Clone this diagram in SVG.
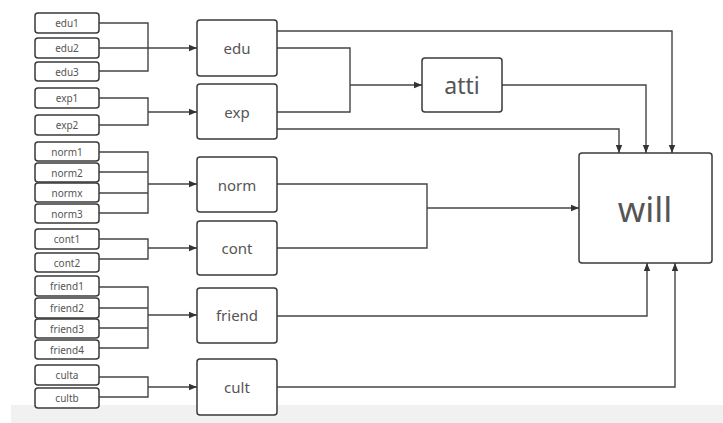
<svg xmlns="http://www.w3.org/2000/svg" width="723" height="423" viewBox="0 0 723 423">
<style>
.b{fill:#fff;stroke:#3a3a3a;stroke-width:1.5}
.t{font-family:"Noto Sans","Open Sans",sans-serif;fill:#555;text-anchor:middle;dominant-baseline:central}
.s{font-size:10px}
.m{font-size:15px}
.c{fill:none;stroke:#444;stroke-width:1.4}
.a{marker-end:url(#ah)}
</style>
<defs>
<marker id="ah" viewBox="0 0 10 10" refX="10" refY="5" markerWidth="8" markerHeight="8" markerUnits="userSpaceOnUse" orient="auto">
<path d="M0,1 L10,5 L0,9 Z" fill="#333"/>
</marker>
</defs>
<rect width="723" height="423" fill="#fff"/>
<rect x="11" y="405" width="712" height="18" fill="#f1f1f1"/>
<g id="connectors">
<path class="c" d="M99,23 H148 V71 H99 M99,48 H148"/>
<path class="c a" d="M148,48 H197"/>
<path class="c" d="M99,98 H148 V125 H99"/>
<path class="c a" d="M148,112 H197"/>
<path class="c" d="M99,152 H148 V213 H99 M99,172 H148 M99,193 H148"/>
<path class="c a" d="M148,184 H197"/>
<path class="c" d="M99,239 H148 V259 H99"/>
<path class="c a" d="M148,248 H197"/>
<path class="c" d="M99,287 H148 V348 H99 M99,308 H148 M99,328 H148"/>
<path class="c a" d="M148,315 H197"/>
<path class="c" d="M99,377 H148 V397 H99"/>
<path class="c a" d="M148,387 H197"/>
<path class="c" d="M277,48 H350 V112 H277"/>
<path class="c a" d="M350,85 H422"/>
<path class="c a" d="M277,31 H672 V153"/>
<path class="c a" d="M277,129 H619 V153"/>
<path class="c a" d="M502,85 H646 V153"/>
<path class="c" d="M277,184 H427 V248 H277"/>
<path class="c a" d="M427,208 H579"/>
<path class="c a" d="M277,316 H647 V263"/>
<path class="c a" d="M277,387 H675 V263"/>
</g>
<g id="edu1"><rect class="b" x="35" y="13" width="64" height="20" rx="3"/><text class="t s" x="67" y="23">edu1</text></g>
<g id="edu2"><rect class="b" x="35" y="38" width="64" height="20" rx="3"/><text class="t s" x="67" y="48">edu2</text></g>
<g id="edu3"><rect class="b" x="35" y="62" width="64" height="19" rx="3"/><text class="t s" x="67" y="71.500">edu3</text></g>
<g id="exp1"><rect class="b" x="35" y="88" width="64" height="20" rx="3"/><text class="t s" x="67" y="98">exp1</text></g>
<g id="exp2"><rect class="b" x="35" y="115" width="64" height="20" rx="3"/><text class="t s" x="67" y="125">exp2</text></g>
<g id="norm1"><rect class="b" x="35" y="142" width="64" height="19" rx="3"/><text class="t s" x="67" y="151.500">norm1</text></g>
<g id="norm2"><rect class="b" x="35" y="163" width="64" height="19" rx="3"/><text class="t s" x="67" y="172.500">norm2</text></g>
<g id="normx"><rect class="b" x="35" y="183" width="64" height="19" rx="3"/><text class="t s" x="67" y="192.500">normx</text></g>
<g id="norm3"><rect class="b" x="35" y="204" width="64" height="19" rx="3"/><text class="t s" x="67" y="213.500">norm3</text></g>
<g id="cont1"><rect class="b" x="35" y="229" width="64" height="20" rx="3"/><text class="t s" x="67" y="239">cont1</text></g>
<g id="cont2"><rect class="b" x="35" y="253" width="64" height="19" rx="3"/><text class="t s" x="67" y="262.500">cont2</text></g>
<g id="friend1"><rect class="b" x="35" y="276" width="64" height="20" rx="3"/><text class="t s" x="67" y="286">friend1</text></g>
<g id="friend2"><rect class="b" x="35" y="298" width="64" height="20" rx="3"/><text class="t s" x="67" y="308">friend2</text></g>
<g id="friend3"><rect class="b" x="35" y="319" width="64" height="19" rx="3"/><text class="t s" x="67" y="328.500">friend3</text></g>
<g id="friend4"><rect class="b" x="35" y="340" width="64" height="19" rx="3"/><text class="t s" x="67" y="349.500">friend4</text></g>
<g id="culta"><rect class="b" x="35" y="365" width="64" height="20" rx="3"/><text class="t s" x="67" y="375">culta</text></g>
<g id="cultb"><rect class="b" x="35" y="388" width="64" height="20" rx="3"/><text class="t s" x="67" y="398">cultb</text></g>
<g id="edu"><rect class="b" x="197" y="20" width="80" height="56" rx="3"/><text class="t m" x="237" y="48">edu</text></g>
<g id="exp"><rect class="b" x="197" y="84" width="80" height="55" rx="3"/><text class="t m" x="237" y="112">exp</text></g>
<g id="norm"><rect class="b" x="197" y="157" width="80" height="55" rx="3"/><text class="t m" x="237" y="185">norm</text></g>
<g id="cont"><rect class="b" x="197" y="221" width="80" height="54" rx="3"/><text class="t m" x="237" y="248">cont</text></g>
<g id="friend"><rect class="b" x="197" y="288" width="80" height="55" rx="3"/><text class="t m" x="237" y="315">friend</text></g>
<g id="cult"><rect class="b" x="197" y="359" width="80" height="56" rx="3"/><text class="t m" x="237" y="387">cult</text></g>
<g id="atti"><rect class="b" x="422" y="58" width="80" height="54" rx="3"/><text class="t" style="font-size:23px" x="462" y="85">atti</text></g>
<g id="will"><rect class="b" x="579" y="153" width="133" height="110" rx="3"/><text class="t" style="font-size:35px" x="645" y="208">will</text></g>
</svg>
